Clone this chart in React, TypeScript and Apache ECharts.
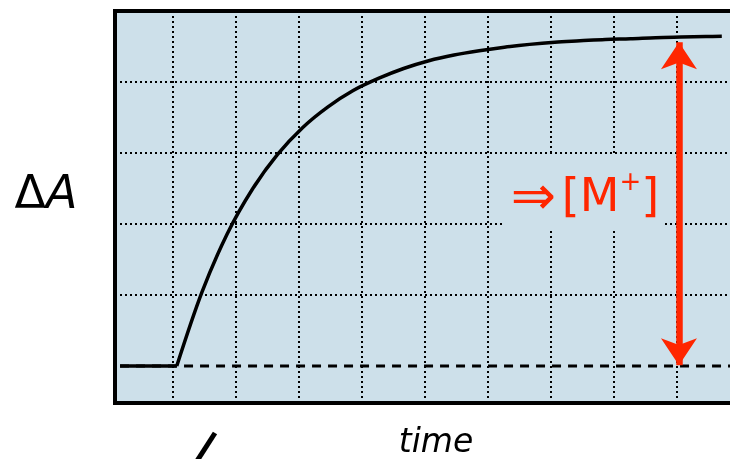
import { useEffect, useRef } from "react";
import * as echarts from "echarts";

// grid-line positions (time in grid cells, ΔA in grid cells)
const timeGridLines = [0, 1, 2, 3, 4, 5, 6, 7, 8];
const deltaAGridLines = [1, 2, 3, 4];

// flat pre-mixing trace
const preMixTime = [-0.84, 0.06];
const preMixDeltaA = [0, 0];

// rising kinetic trace
const curveTime = [0.06, 0.46, 0.86, 1.26, 1.66, 2.06, 2.46, 2.86, 3.26, 3.66, 4.06, 4.46, 4.86, 5.26, 5.66, 6.06, 6.46, 6.86, 7.26, 7.66, 8.06, 8.46, 8.71];
const curveDeltaA = [0, 1.04, 1.86, 2.49, 2.98, 3.36, 3.65, 3.88, 4.05, 4.19, 4.3, 4.38, 4.44, 4.49, 4.53, 4.56, 4.58, 4.6, 4.61, 4.625, 4.633, 4.64, 4.643];

// dashed baseline
const baselineTime = [-0.84, 8.84];
const baselineDeltaA = [0, 0];

// amplitude arrow (tips)
const arrowTime = 8.03;
const arrowDeltaA = [0.01, 4.56];

const xRange = [-0.92, 8.84];
const yRange = [-0.52, 5.0];

const BG = "#cde0ea";
const RED = "#ff2600";

export default function App() {
  const ref = useRef<HTMLDivElement>(null);
  useEffect(() => {
    if (!ref.current) return;
    const chart = echarts.init(ref.current, undefined, { renderer: "svg" });
    const borderLine = { show: true, onZero: false, lineStyle: { color: "#000", width: 4, cap: "square" } };
    const hidden = { show: false };
    const gridStyle = { color: "#000", width: 2, type: [2, 3] };
    const option: any = {
      animation: false,
      grid: { left: 115, right: 0, top: 11, bottom: 56, show: true, backgroundColor: BG, borderWidth: 0 },
      xAxis: [
        { type: "value", min: xRange[0], max: xRange[1], axisLine: borderLine, axisTick: hidden, axisLabel: hidden, splitLine: hidden },
        { type: "value", position: "top", min: xRange[0], max: xRange[1], axisLine: borderLine, axisTick: hidden, axisLabel: hidden, splitLine: hidden },
      ],
      yAxis: { type: "value", min: yRange[0], max: yRange[1], axisLine: borderLine, axisTick: hidden, axisLabel: hidden, splitLine: hidden },
      series: [
        {
          type: "line",
          name: "baseline",
          data: baselineTime.map((t, i) => [t, baselineDeltaA[i]]),
          symbol: "none",
          silent: true,
          z: 3,
          lineStyle: { color: "#000", width: 3, type: [9, 7] },
          markLine: {
            z: 1,
            silent: true,
            symbol: ["none", "none"],
            label: { show: false },
            lineStyle: gridStyle,
            data: [
              ...timeGridLines.map((t) => ({ xAxis: t })),
              ...deltaAGridLines.map((v) => ({ yAxis: v })),
            ],
          },
        },
        {
          type: "line",
          name: "pre",
          data: preMixTime.map((t, i) => [t, preMixDeltaA[i]]),
          symbol: "none",
          silent: true,
          z: 4,
          lineStyle: { color: "#000", width: 3.5 },
        },
        {
          type: "line",
          name: "trace",
          data: curveTime.map((t, i) => [t, curveDeltaA[i]]),
          symbol: "none",
          smooth: 0.33,
          silent: true,
          z: 4,
          lineStyle: { color: "#000", width: 3.5 },
        },
        {
          type: "line",
          name: "arrow",
          data: [],
          silent: true,
          markLine: {
            z: 6,
            silent: true,
            symbol: ["arrow", "arrow"],
            symbolSize: [27, 27],
            label: { show: false },
            lineStyle: { color: RED, width: 6.5, type: "solid" },
            data: [[{ coord: [arrowTime, arrowDeltaA[0]] }, { coord: [arrowTime, arrowDeltaA[1]] }]],
          },
        },
      ],
      graphic: {
        elements: [
          {
            type: "text",
            x: 46,
            y: 192,
            z: 100,
            style: {
              text: "{d|Δ}{a|A}",
              align: "center",
              verticalAlign: "middle",
              fill: "#000",
              rich: {
                d: { fontFamily: "DejaVu Sans", fontSize: 46, fill: "#000" },
                a: { fontFamily: "DejaVu Sans", fontSize: 46, fontStyle: "italic", fill: "#000" },
              },
            },
          },
          {
            type: "text",
            x: 436,
            y: 440,
            z: 100,
            style: {
              text: "time",
              align: "center",
              verticalAlign: "middle",
              fill: "#000",
              fontFamily: "DejaVu Sans",
              fontSize: 33,
              fontStyle: "italic",
            },
          },
          {
            type: "line",
            z: 100,
            shape: { x1: 197, y1: 461, x2: 215, y2: 433 },
            style: { stroke: "#000", lineWidth: 5 },
          },
          {
            type: "rect",
            z: 50,
            shape: { x: 505, y: 154, width: 160, height: 75 },
            style: { fill: BG },
          },
          {
            type: "text",
            x: 585,
            y: 195,
            z: 100,
            style: {
              text: "{a|⇒}{sp| }{b|[M}{s|+}{b|]}",
              align: "center",
              verticalAlign: "middle",
              fill: RED,
              rich: {
                a: { fontFamily: "DejaVu Sans", fontSize: 54, fill: RED },
                sp: { fontFamily: "DejaVu Sans", fontSize: 18, fill: RED },
                b: { fontFamily: "DejaVu Sans", fontSize: 46, fill: RED },
                s: { fontFamily: "DejaVu Sans", fontSize: 26, fill: RED, verticalAlign: "top" },
              },
            },
          },
        ],
      },
    };
    chart.setOption(option);
    return () => chart.dispose();
  }, []);
  return <div ref={ref} style={{ position: "fixed", left: 0, top: 0, width: 730, height: 459 }} />;
}
